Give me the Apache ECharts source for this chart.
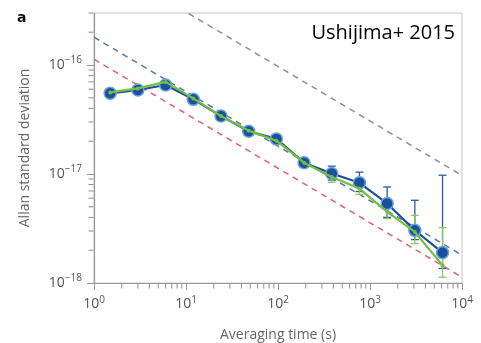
<!DOCTYPE html>
<html>
<head>
<meta charset="utf-8">
<script src="https://cdn.jsdelivr.net/npm/echarts@6/dist/echarts.min.js"></script>
<style>
  html, body { margin: 0; padding: 0; background: #fff; }
  #chart { width: 481px; height: 343px; }
</style>
</head>
<body>
<div id="chart"></div>
<script>
// averaging times (s)
const tau = [1.5, 3, 6, 12, 24, 48, 96, 192, 384, 768, 1536, 3072, 6144];
// Allan deviation, blue clock
const blueDev = [5.5e-17, 5.9e-17, 6.55e-17, 4.84e-17, 3.4e-17, 2.47e-17, 2.1e-17, 1.27e-17, 1.01e-17, 8.3e-18, 5.37e-18, 3.04e-18, 1.9e-18];
// Allan deviation, green clock
const greenDev = [5.6e-17, 6.1e-17, 7.0e-17, 4.94e-17, 3.4e-17, 2.5e-17, 2.02e-17, 1.27e-17, 9.4e-18, 7.35e-18, 4.5e-18, 2.94e-18, 1.45e-18];
// error bars (only the last points, earlier ones hide under the markers)
const errTau = [384, 768, 1536, 3072, 6144];
const blueLow = [8.8e-18, 6.9e-18, 4.0e-18, 2.5e-18, 1.36e-18];
const blueHigh = [1.18e-17, 1.04e-17, 7.6e-18, 5.74e-18, 9.75e-18];
const greenLow = [8.4e-18, 6.5e-18, 3.9e-18, 2.3e-18, 1.13e-18];
const greenHigh = [1.04e-17, 8.3e-18, 5.3e-18, 4.18e-18, 3.22e-18];
// tau^-1/2 guide lines
const guideTau = [1, 10000];
const greyGuide = [9.7e-16, 9.7e-18];
const blueGuide = [1.8e-16, 1.8e-18];
const redGuide = [1.13e-16, 1.13e-18];
// ticks
const xMin = 1, xMax = 10000, yMin = 1e-18, yMax = 3e-16;
const xMajor = [1, 10, 100, 1000, 10000];
const xMinor = [2, 3, 4, 5, 6, 7, 8, 9, 20, 30, 40, 50, 60, 70, 80, 90, 200, 300, 400, 500, 600, 700, 800, 900, 2000, 3000, 4000, 5000, 6000, 7000, 8000, 9000];
const yMajor = [1e-18, 1e-17, 1e-16];
const yMinor = [2e-18, 3e-18, 4e-18, 5e-18, 6e-18, 7e-18, 8e-18, 9e-18, 2e-17, 3e-17, 4e-17, 5e-17, 6e-17, 7e-17, 8e-17, 9e-17, 2e-16, 3e-16];

const font = "'Open Sans', 'DejaVu Sans', sans-serif";
const labelColor = "#555";
const axisColor = "#9a9a9a";

const pow10 = (v) => {
  const e = Math.round(Math.log10(v));
  return "{b|10}{s|" + String(e).replace("-", "\u2212") + "}";
};
const richSup = {
  b: { fontSize: 14, color: labelColor, fontFamily: font },
  s: { fontSize: 10, color: labelColor, fontFamily: font, padding: [0, 0, 9, 0] },
};

const errBars = (color, low, high) => ({
  type: "custom",
  z: 3,
  data: errTau.map((t, i) => [t, low[i], high[i]]),
  renderItem: (params, api) => {
    const a = api.coord([api.value(0), api.value(1)]);
    const b = api.coord([api.value(0), api.value(2)]);
    const w = 4;
    const st = { stroke: color, lineWidth: 1.3 };
    return {
      type: "group",
      children: [
        { type: "line", shape: { x1: a[0], y1: a[1], x2: b[0], y2: b[1] }, style: st },
        { type: "line", shape: { x1: a[0] - w, y1: a[1], x2: a[0] + w, y2: a[1] }, style: st },
        { type: "line", shape: { x1: b[0] - w, y1: b[1], x2: b[0] + w, y2: b[1] }, style: st },
      ],
    };
  },
});

// short log minor ticks as tiny rect symbols sitting on the axes
const minorTicks = (values, isX) => ({
  type: "scatter",
  silent: true,
  clip: false,
  z: 6,
  data: values.map((v) => (isX ? [v, yMin] : [xMin, v])),
  symbol: "rect",
  symbolSize: isX ? [1, 5] : [5, 1],
  symbolOffset: isX ? [0, 3] : [-3, 0],
  itemStyle: { color: "#8a8a8a", opacity: 1 },
});

const guide = (color, vals) => ({
  type: "line",
  data: guideTau.map((t, i) => [t, vals[i]]),
  symbol: "none",
  z: 1,
  lineStyle: { color: color, width: 1.5, type: [6, 5] },
});

const option = {
  animation: false,
  grid: { left: 94, right: 19, top: 13, bottom: 60, show: true, borderColor: "#c4c4c4", borderWidth: 1, outerBoundsMode: "none" },
  xAxis: {
    type: "log", min: xMin, max: xMax,
    name: "Averaging time (s)", nameLocation: "middle", nameGap: 45,
    nameTextStyle: { fontSize: 14, color: "#666", fontFamily: font },
    axisLine: { onZero: false, lineStyle: { color: axisColor, width: 1.2 } },
    axisTick: { length: 7, customValues: xMajor, lineStyle: { color: axisColor } },
    axisLabel: { customValues: xMajor, formatter: pow10, rich: richSup, margin: 12 },
    splitLine: { show: false },
  },
  yAxis: {
    type: "log", min: yMin, max: yMax,
    name: "Allan standard deviation", nameLocation: "middle", nameGap: 62,
    nameTextStyle: { fontSize: 14, color: "#666", fontFamily: font },
    axisLine: { show: true, onZero: false, lineStyle: { color: axisColor, width: 1.2 } },
    axisTick: { show: true, length: 7, customValues: yMajor, lineStyle: { color: axisColor } },
    axisLabel: { customValues: yMajor, formatter: pow10, rich: richSup, margin: 12 },
    splitLine: { show: false },
  },
  graphic: [
    { type: "text", left: 17, top: 11, style: { text: "a", font: "bold 14px 'DejaVu Sans', sans-serif", fill: "#111" } },
    { type: "text", right: 26, top: 23, style: { text: "Ushijima+ 2015", font: "20px 'Open Sans', sans-serif", fill: "#000" } },
  ],
  series: [
    minorTicks(xMinor, true),
    minorTicks(yMinor, false),
    guide("#8e8e9c", greyGuide),
    guide("#5a78a0", blueGuide),
    guide("#e0607a", redGuide),
    errBars("#2d5a9e", blueLow, blueHigh),
    errBars("#8cc860", greenLow, greenHigh),
    {
      type: "line", z: 4,
      data: tau.map((t, i) => [t, blueDev[i]]),
      symbol: "circle", symbolSize: 12,
      lineStyle: { color: "#1f4f98", width: 2.2 },
      itemStyle: { color: "#1d4f9c", borderColor: "#6aa3dc", borderWidth: 1.5 },
    },
    {
      type: "line", z: 5,
      data: tau.map((t, i) => [t, greenDev[i]]),
      symbol: "circle", symbolSize: 4,
      lineStyle: { color: "#72bf44", width: 2.2 },
      itemStyle: { color: "#72bf44" },
    },
  ],
};

const chart = echarts.init(document.getElementById("chart"));
chart.setOption(option);
</script>
</body>
</html>
